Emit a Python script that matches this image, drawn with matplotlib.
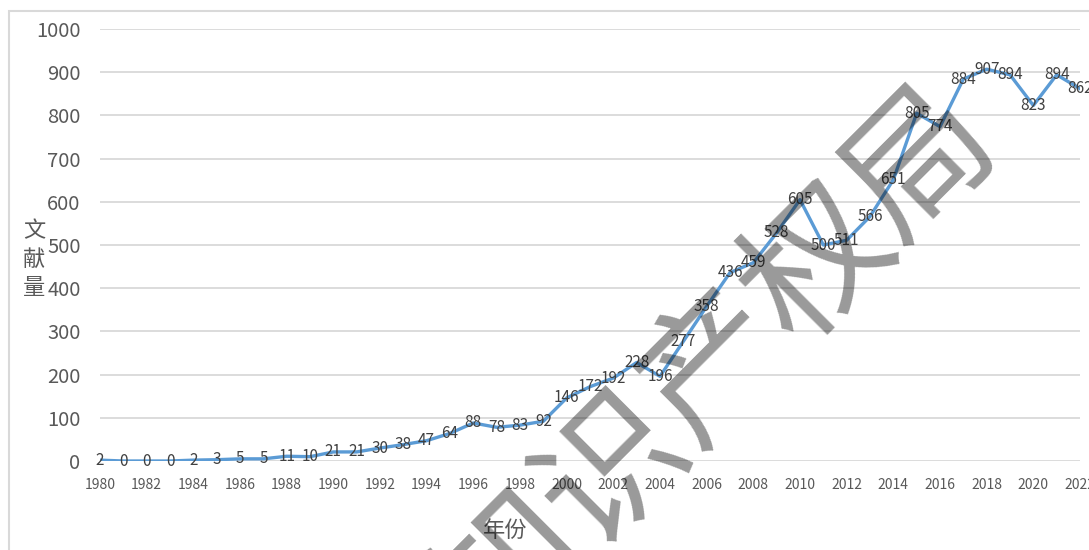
import matplotlib
matplotlib.use("Agg")
import matplotlib.pyplot as plt
from matplotlib.patches import Rectangle

plt.rcParams['font.family'] = ['Noto Sans CJK SC', 'DejaVu Sans']

years = list(range(1980, 2023))
counts = [2, 0, 0, 0, 2, 3, 5, 5, 11, 10,
          21, 21, 30, 38, 47, 64, 88, 78, 83, 92,
          146, 172, 192, 228, 196, 277, 358, 436, 459, 528,
          605, 500, 511, 566, 651, 805, 774, 884, 907, 894,
          823, 894, 862]
xticks = list(range(1980, 2023, 2))
yticks = list(range(0, 1001, 100))
stamp = "知识产权局"

W, H = 1089, 550
fig = plt.figure(figsize=(W / 100, H / 100), dpi=100)

# outer chart frame
fig.patches.append(Rectangle((9 / W, -0.1), 1.2, 1 - 11 / H + 0.1,
                             transform=fig.transFigure, fill=False,
                             edgecolor='#d9d9d9', linewidth=1.5))

ax = fig.add_axes([100 / W, 1 - 461 / H, 980 / W, 432 / H])
ax.set_xlim(1980, 2022)
ax.set_ylim(0, 1000)
for s in ax.spines.values():
    s.set_visible(False)
ax.set_yticks(yticks)
ax.set_xticks(xticks)
ax.grid(axis='y', color='#d9d9d9', linewidth=1.3)
ax.set_axisbelow(True)
ax.tick_params(axis='both', length=0)
ax.tick_params(axis='y', pad=14, labelsize=14.5, labelcolor='#595959')
ax.tick_params(axis='x', pad=12, labelsize=10, labelcolor='#595959')
for lab in ax.get_xticklabels():
    lab.set_fontstretch('condensed')

ax.plot(years, counts, color='#5b9bd5', linewidth=2.4, solid_joinstyle='round', zorder=3)

for x, y in zip(years, counts):
    ax.text(x, y, str(y), ha='center', va='center', fontsize=11,
            color='#404040', zorder=4)

fig.text(34 / W, 1 - 259 / H, "文\n献\n量", ha='center', va='center',
         fontsize=16, color='#595959', linespacing=1.3)
fig.text(505 / W, 1 - 530 / H, "年份", ha='center', va='center',
         fontsize=16, color='#595959')

# stamp across the plot, one glyph at a time along a 45° diagonal
cx0, cy0, step = 512, 572, 102
for i, ch in enumerate(stamp):
    fig.text((cx0 + i * step) / W, 1 - (cy0 - i * step) / H, ch,
             ha='center', va='center', rotation=45, fontsize=104,
             fontweight='medium', color='black', alpha=0.4, zorder=10)

fig.savefig("out.png", dpi=100, facecolor='white')
